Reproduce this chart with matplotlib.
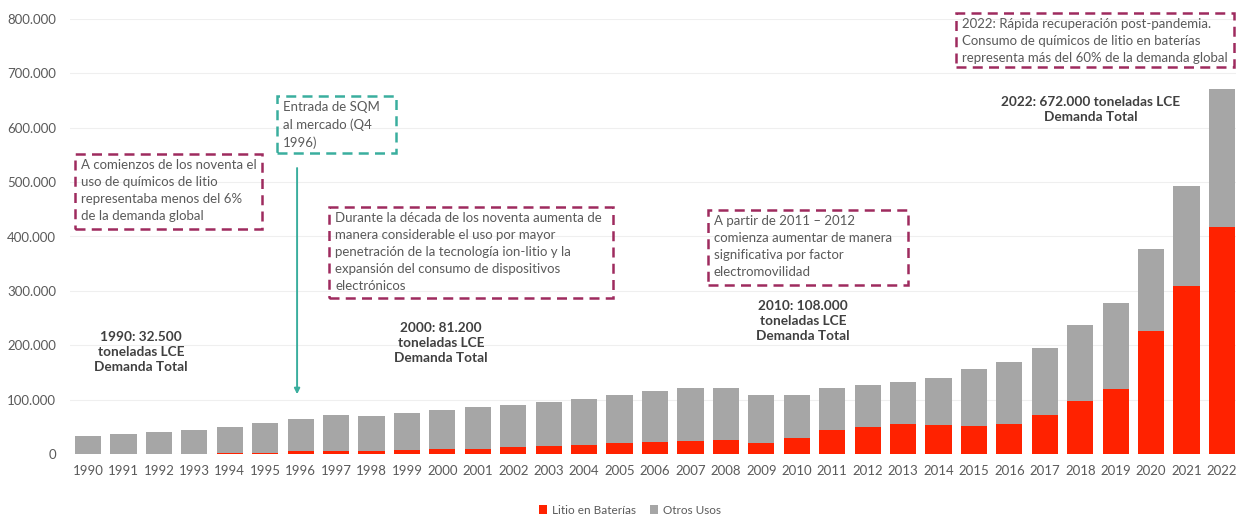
import matplotlib
matplotlib.use("Agg")
import matplotlib.pyplot as plt
from matplotlib.patches import Rectangle
from matplotlib.ticker import FuncFormatter
import numpy as np

years = [str(y) for y in range(1990, 2023)]
litio_baterias = [0, 0, 0, 0.5, 1, 2, 5, 6, 6, 7, 9, 10, 12, 15, 17,
                  20, 22, 24.5, 26.5, 21, 29.5, 43.5, 49, 55, 53.5, 51.5, 55,
                  72, 97, 120, 227, 309, 417]
demanda_total = [32.5, 36.8, 40, 44.7, 49, 57.6, 63.7, 71, 69, 74.8, 81.2, 85.8, 91, 96, 102,
                 108.5, 115.8, 122, 122, 108, 108, 120.7, 126.8, 131.5, 139, 155.5, 170,
                 195, 238, 278, 377, 492, 672]
litio_baterias = np.array(litio_baterias) * 1000
demanda_total = np.array(demanda_total) * 1000
otros_usos = demanda_total - litio_baterias

RED = "#ff2200"
GRAY = "#a6a6a6"
MAROON = "#9e2b5e"
TEAL = "#3aae9e"
TXT = "#5a5a5a"
BOLD = "#404040"
FONT = "Lato"

plt.rcParams["font.family"] = [FONT, "DejaVu Sans"]

fig = plt.figure(figsize=(12.36, 5.18), dpi=100)
ax = fig.add_axes([70 / 1236, 64 / 518, 1166 / 1236, 435 / 518])

x = np.arange(len(years))
ax.bar(x, litio_baterias, width=0.74, color=RED, label="Litio en Baterías", zorder=2)
ax.bar(x, otros_usos, width=0.74, bottom=litio_baterias, color=GRAY, label="Otros Usos", zorder=2)

ax.set_xlim(-0.508, 32.395)
ax.set_ylim(0, 800000)
ax.set_yticks(np.arange(0, 800001, 100000))
ax.yaxis.set_major_formatter(FuncFormatter(lambda v, p: f"{int(v):,}".replace(",", ".")))
ax.set_xticks(x)
ax.set_xticklabels(years)
ax.tick_params(axis="both", length=0, labelsize=9.5, colors=TXT)
ax.tick_params(axis="y", pad=10)
ax.tick_params(axis="x", pad=8)
for s in ax.spines.values():
    s.set_visible(False)
ax.grid(axis="y", color="#efefef", linewidth=0.8, zorder=0)
ax.set_axisbelow(True)


def note(x0, x1, y0, y1, text, color, size=9.5):
    ax.add_patch(Rectangle((x0, y0), x1 - x0, y1 - y0, fill=False, edgecolor=color,
                           linewidth=1.8, linestyle=(0, (4, 2.5)), clip_on=False, zorder=4))
    ax.text(x0 + 0.17, y1 - 9000, text, ha="left", va="top", fontsize=size, color=TXT,
            linespacing=1.5, zorder=5, clip_on=False)


note(-0.367, 4.910, 413600, 551500,
     "A comienzos de los noventa el\nuso de químicos de litio\nrepresentaba menos del 6%\nde la demanda global",
     MAROON)
note(5.333, 8.691, 553300, 658100, "Entrada de SQM\nal mercado (Q4\n1996)", TEAL)
note(6.800, 14.814, 286800, 454000,
     "Durante la década de los noventa aumenta de\nmanera considerable el uso por mayor\n"
     "penetración de la tecnología ion-litio y la\nexpansión del consumo de dispositivos\nelectrónicos",
     MAROON)
note(17.494, 23.138, 310700, 448500,
     "A partir de 2011 – 2012\ncomienza aumentar de manera\nsignificativa por factor\nelectromovilidad",
     MAROON)
note(24.492, 32.336, 711400, 810700,
     "2022: Rápida recuperación post-pandemia.\nConsumo de químicos de litio en baterías\n"
     "representa más del 60% de la demanda global",
     MAROON)

# SQM entry marker pointing at the 1996 bar
ax.annotate("", xy=(5.9, 104800), xytext=(5.9, 531000),
            arrowprops=dict(arrowstyle="-|>", color=TEAL, lw=1.4, mutation_scale=8),
            zorder=3)


def bold_label(xc, ytop, text):
    ax.text(xc, ytop, text, ha="center", va="top", fontsize=9.8, fontweight="bold",
            color=BOLD, linespacing=1.3, zorder=5)


bold_label(1.5, 226000, "1990: 32.500\ntoneladas LCE\nDemanda Total")
bold_label(9.96, 243000, "2000: 81.200\ntoneladas LCE\nDemanda Total")
bold_label(20.17, 283000, "2010: 108.000\ntoneladas LCE\nDemanda Total")
bold_label(28.3, 658000, "2022: 672.000 toneladas LCE\nDemanda Total")

handles, labels = ax.get_legend_handles_labels()
fig.legend(handles, labels, loc="center", bbox_to_anchor=(630 / 1236, 1 - 510 / 518), ncol=2,
           frameon=False, fontsize=8.5, handlelength=0.7, handleheight=0.7,
           handletextpad=0.4, columnspacing=1.2, labelcolor=TXT)

fig.savefig("out.png", dpi=100, facecolor="white")
